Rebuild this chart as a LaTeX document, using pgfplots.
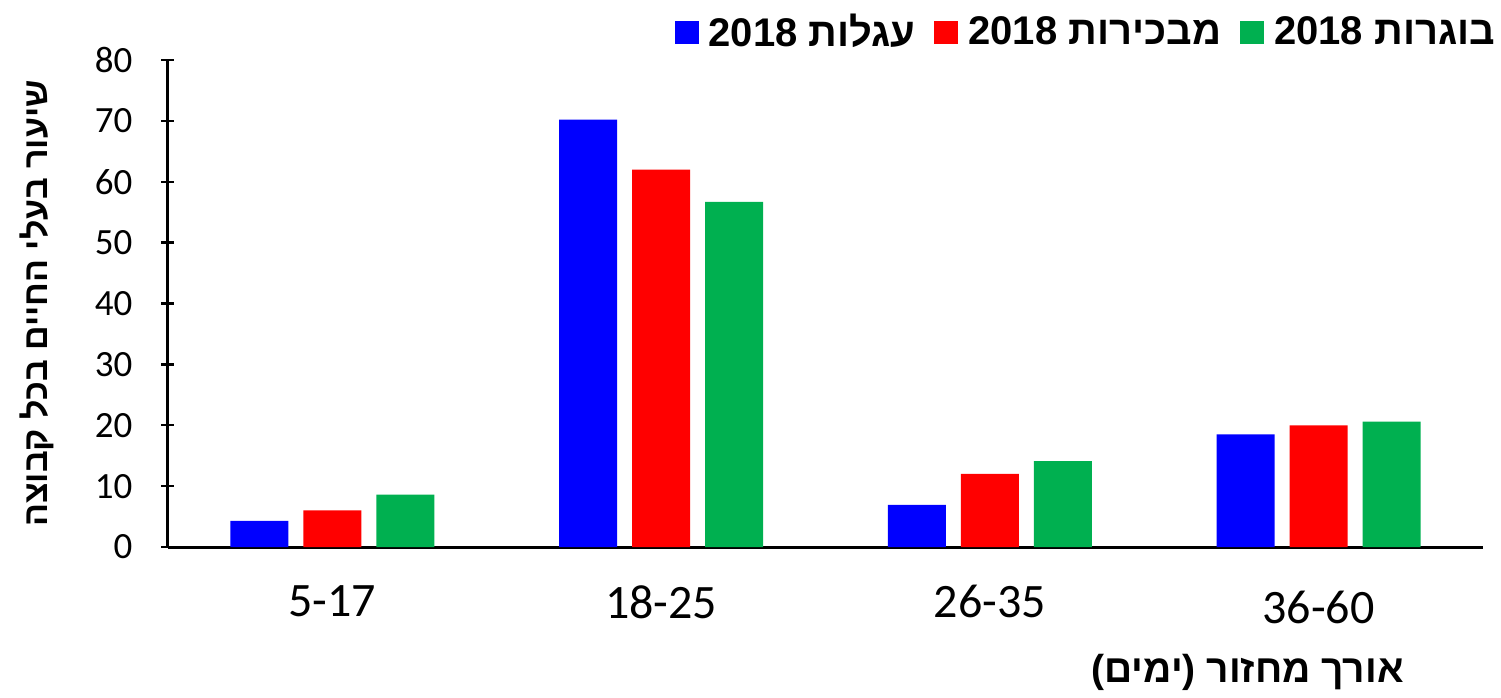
\documentclass[border=0pt]{standalone}
\usepackage{fontspec}
\usepackage{pgfplots}
\pgfplotsset{compat=1.18}
\setmainfont{Carlito}
\newfontfamily\heb[Script=Hebrew]{Liberation Sans}
\TeXXeTstate=1

\definecolor{cblue}{HTML}{0000FF}
\definecolor{cred}{HTML}{FF0000}
\definecolor{cgreen}{HTML}{00B050}

\begin{document}
\begin{tikzpicture}
  % page = 1501x697 px at 0.5pt per px, plot area at the origin
  \useasboundingbox (-84pt,-75pt) rectangle (666.5pt,273.5pt);
  \begin{axis}[
      at={(0,0)}, anchor=south west,
      scale only axis, width=657.5pt, height=243.5pt,
      ybar, bar width=0.176,
      xmin=-0.5, xmax=3.5, ymin=0, ymax=80,
      ytick={0,10,...,80},
      xtick={0,1,2,3},
      xticklabels={5-17,18-25,26-35,\raisebox{-3pt}[\height]{36-60}},
      extra x ticks={-0.5,0.5,1.5,2.5,3.5},
      extra x tick labels={},
      extra x tick style={major tick length=4pt, tick align=inside},
      x tick style={draw=none},
      y tick style={black, line width=1.2pt},
      tick align=outside, major tick length=6.5pt,
      axis x line=bottom, axis y line=left,
      axis line style={black, line width=1.5pt, -},
      /pgf/number format/assume math mode=true,
      yticklabel style={font=\fontsize{18.5}{20}\selectfont, xshift=-11pt},
      xticklabel style={font=\fontsize{24}{26}\selectfont, yshift=-12.5pt},
      ylabel={\heb\bfseries\beginR שיעור בעלי החיים בכל קבוצה\endR},
      ylabel style={font=\fontsize{17}{20}\selectfont, at={(axis description cs:-0.1,0.5)}, anchor=center},
      xlabel={\heb\bfseries\beginR אורך מחזור (ימים)\endR},
      xlabel style={font=\fontsize{19.5}{22}\selectfont, at={(axis description cs:0.821,-0.258)}, anchor=center},
      legend columns=3,
      legend style={at={(axis description cs:1.0125,1.1027)}, anchor=north east,
        draw=none, fill=none, inner xsep=0pt, inner ysep=0pt,
        font=\heb\bfseries\fontsize{20}{22}\selectfont,
        /tikz/every odd column/.append style={column sep=3pt},
        /tikz/every even column/.append style={column sep=7.5pt}},
      legend image code/.code={\fill[#1] (0pt,-5.75pt) rectangle (12pt,5.75pt);},
    ]
    \addplot[fill=cblue, draw=none, bar shift=-0.222] coordinates {(0,4.3) (1,70.2) (2,6.9) (3,18.5)};
    \addplot[fill=cred, draw=none, bar shift=0] coordinates {(0,6.0) (1,62.0) (2,12.0) (3,20.0)};
    \addplot[fill=cgreen, draw=none, bar shift=0.222] coordinates {(0,8.6) (1,56.7) (2,14.1) (3,20.6)};
    \legend{{\beginR עגלות 2018\endR},{\beginR מבכירות 2018\endR},{\beginR בוגרות 2018\endR}}
  \end{axis}
\end{tikzpicture}
\end{document}
